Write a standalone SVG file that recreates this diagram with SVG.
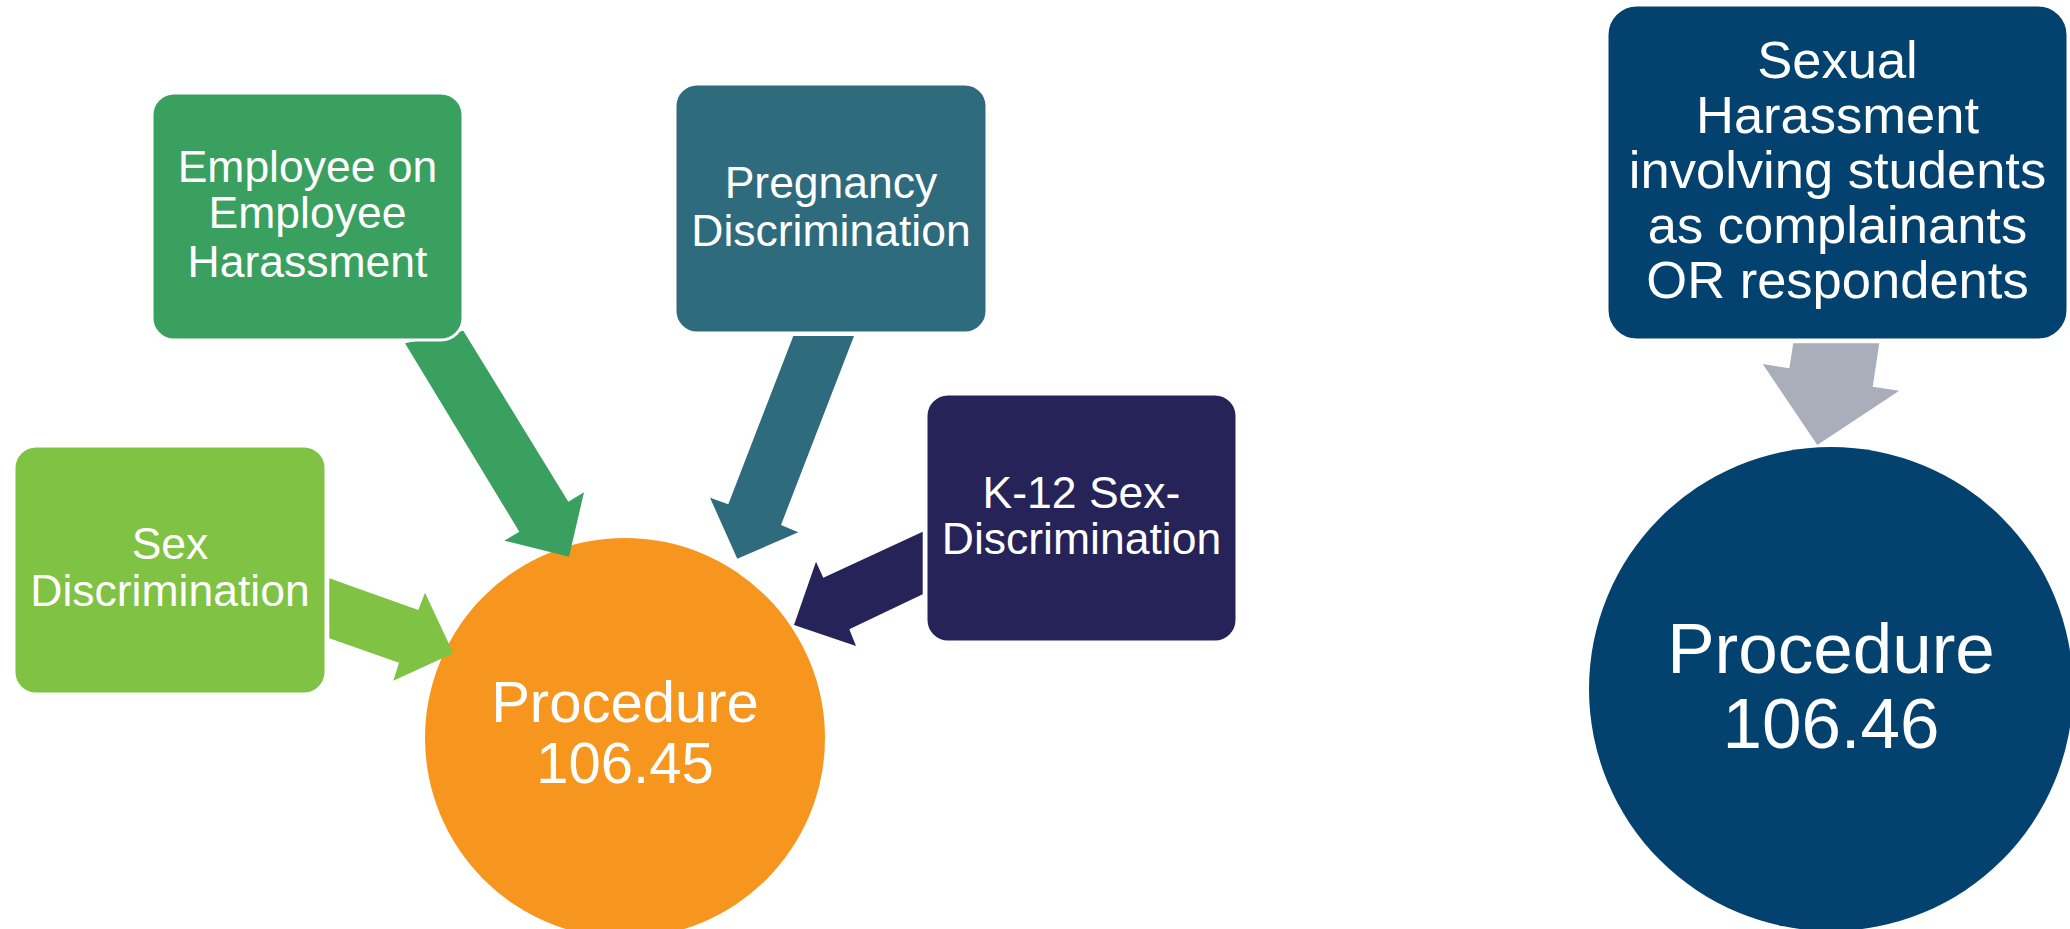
<svg xmlns="http://www.w3.org/2000/svg" width="2070" height="929" viewBox="0 0 2070 929">
<style>
  .box { stroke: #ffffff; stroke-width: 3; }
  .lbl { font-family: "Liberation Sans", Arial, sans-serif; fill: #ffffff; text-anchor: middle; }
  .s44 { font-size: 44.5px; }
  .s52 { font-size: 52.5px; }
  .s58 { font-size: 58px; }
  .s71 { font-size: 71px; }
</style>
<rect width="2070" height="929" fill="#ffffff"/>

<g id="node-proc10645">
  <circle cx="625" cy="738" r="200" fill="#F6961F"/>
  <text class="lbl s58" x="625" y="721.7">Procedure</text>
  <text class="lbl s58" x="625" y="783.3">106.45</text>
</g>

<g id="node-proc10646">
  <circle cx="1831" cy="689" r="242" fill="#03416E"/>
  <text class="lbl s71" x="1831" y="673.3">Procedure</text>
  <text class="lbl s71" x="1831" y="748.3">106.46</text>
</g>

<g id="connectors">
  <polygon fill="#3AA060" points="405,343.3 463.3,330.7 568.3,501.7 584,492.3 569,556.7 504.3,540.7 519.3,531.7"/>
  <polygon fill="#7FC244" points="329.3,578.3 418.3,610 425,592.7 453.3,653.3 393.3,680.7 399,662.7 329.3,638.3"/>
  <polygon fill="#2E6B7C" points="793.3,336 854,336 781,525 798.3,532.3 737.3,558.7 710,497.7 728.3,504.3"/>
  <polygon fill="#262359" points="922.7,531.7 823.3,577.7 816,561.7 794,625 856,646 849.3,629.3 922.7,594.3"/>
  <polygon fill="#A9AEBA" points="1793.3,343.3 1879.3,343.3 1872.7,386.7 1899.3,390.7 1817.3,445 1762.7,364 1789.3,368.3"/>
</g>

<g id="node-employee">
  <rect class="box" x="152" y="93" width="311" height="247" rx="22" fill="#3AA060"/>
  <text class="lbl s44" x="307.5" y="181.7">Employee on</text>
  <text class="lbl s44" x="307.5" y="228.3">Employee</text>
  <text class="lbl s44" x="307.5" y="276.7">Harassment</text>
</g>

<g id="node-sex">
  <rect class="box" x="14" y="446" width="312" height="248" rx="22" fill="#7FC244"/>
  <text class="lbl s44" x="170" y="559">Sex</text>
  <text class="lbl s44" x="170" y="606">Discrimination</text>
</g>

<g id="node-pregnancy">
  <rect class="box" x="675" y="84" width="312" height="249" rx="22" fill="#2E6B7C"/>
  <text class="lbl s44" x="831" y="197.7">Pregnancy</text>
  <text class="lbl s44" x="831" y="245.7">Discrimination</text>
</g>

<g id="node-k12">
  <rect class="box" x="926" y="394" width="311" height="248" rx="22" fill="#262359"/>
  <text class="lbl s44" x="1081.5" y="507.7">K-12 Sex-</text>
  <text class="lbl s44" x="1081.5" y="554">Discrimination</text>
</g>

<g id="node-sexual-harassment">
  <rect class="box" x="1607" y="5" width="461" height="335" rx="30" fill="#03416E"/>
  <text class="lbl s52" x="1837.5" y="78.3">Sexual</text>
  <text class="lbl s52" x="1837.5" y="133.3">Harassment</text>
  <text class="lbl s52" x="1837.5" y="188.3">involving students</text>
  <text class="lbl s52" x="1837.5" y="243.3">as complainants</text>
  <text class="lbl s52" x="1837.5" y="298.3">OR respondents</text>
</g>
</svg>
